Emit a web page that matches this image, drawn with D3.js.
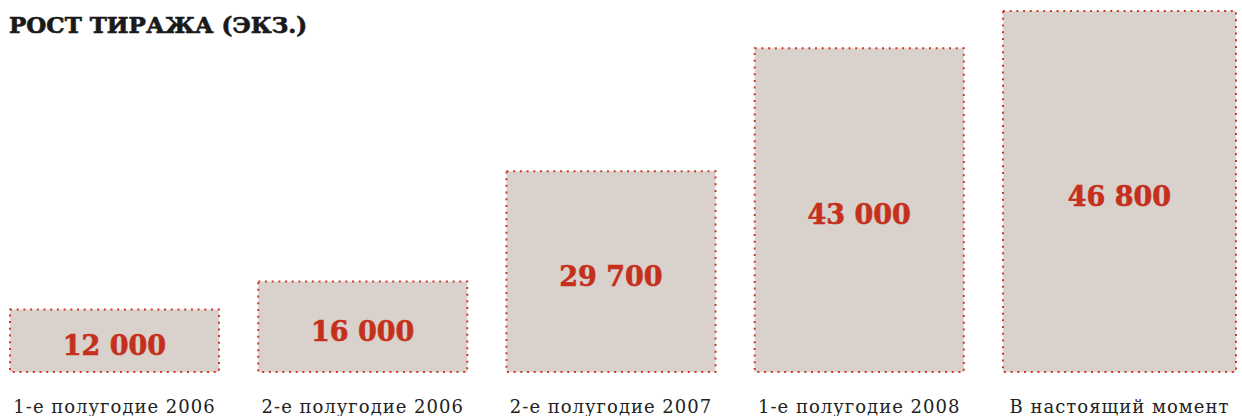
<!DOCTYPE html>
<html>
<head>
<meta charset="utf-8">
<script src="https://cdn.jsdelivr.net/npm/d3@7"></script>
<style>
  body { margin: 0; background: #fff; }
  .title { font-family: "DejaVu Serif", serif; font-weight: bold; font-size: 23px; fill: #1a1a1a; stroke: #1a1a1a; stroke-width: 0.7px; }
  .cat { font-family: "DejaVu Serif", serif; font-size: 18px; letter-spacing: 1px; fill: #222; }
  .val { font-family: "DejaVu Serif", serif; font-weight: bold; font-size: 27px; fill: #c4301c; stroke: #c4301c; stroke-width: 0.6px; }
</style>
</head>
<body>
<div id="container"></div>
<script>
/* DATA */
const title = "РОСТ ТИРАЖА (ЭКЗ.)";
const categories = ["1-е полугодие 2006", "2-е полугодие 2006", "2-е полугодие 2007", "1-е полугодие 2008", "В настоящий момент"];
const values = [12000, 16000, 29700, 43000, 46800];
const valueLabels = ["12 000", "16 000", "29 700", "43 000", "46 800"];

/* SIZES */
const width = 1242, height = 416;
const baseY = 372;

const svg = d3.select("#container").append("svg")
    .attr("width", width)
    .attr("height", height);

/* X SCALE */
const x = d3.scaleBand()
    .domain(categories)
    .range([10, 1212])
    .paddingInner(0.158)
    .paddingOuter(0);

/* Y SCALE (the original is not drawn to linear scale) */
const y = d3.scalePow()
    .exponent(1.29)
    .domain([0, d3.max(values)])
    .range([baseY, 11]);

const data = categories.map((c, i) => ({cat: c, value: values[i], label: valueLabels[i]}));
const last = categories[categories.length - 1];
// last bar is a little wider in the original
const barW = d => d.cat === last ? x.bandwidth() + 24 : x.bandwidth();

/* TITLE */
svg.append("text")
    .attr("class", "title")
    .attr("x", 9)
    .attr("y", 33)
    .text(title);

/* BARS */
svg.selectAll("rect.bar")
    .data(data)
  .enter().append("rect")
    .attr("class", "bar")
    .attr("x", d => x(d.cat))
    .attr("y", d => y(d.value))
    .attr("width", barW)
    .attr("height", d => baseY - y(d.value))
    .attr("fill", "#d9d1cb")
    .attr("stroke", "#cf3a28")
    .attr("stroke-width", 2)
    .attr("stroke-dasharray", "2,4.7");

/* VALUE LABELS */
svg.selectAll("text.val")
    .data(data)
  .enter().append("text")
    .attr("class", "val")
    .attr("x", d => x(d.cat) + barW(d) / 2)
    .attr("y", d => (y(d.value) + baseY) / 2 + 14)
    .attr("text-anchor", "middle")
    .text(d => d.label);

/* CATEGORY LABELS */
svg.selectAll("text.cat")
    .data(data)
  .enter().append("text")
    .attr("class", "cat")
    .attr("x", d => x(d.cat) + barW(d) / 2)
    .attr("y", 413)
    .attr("text-anchor", "middle")
    .text(d => d.cat);
</script>
</body>
</html>
